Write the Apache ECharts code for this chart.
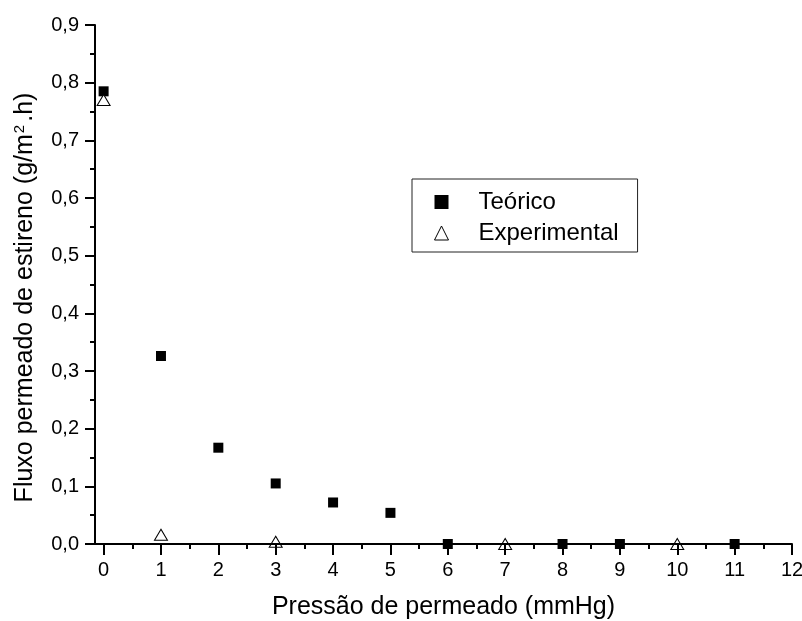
<!DOCTYPE html>
<html>
<head>
<meta charset="utf-8">
<script src="https://cdn.jsdelivr.net/npm/echarts@6/dist/echarts.min.js"></script>
<style>
html,body{margin:0;padding:0;background:#fff;}
#chart{width:802px;height:621px;}
</style>
</head>
<body>
<div id="chart"></div>
<script>
// Data
var teoricoX = [0, 1, 2, 3, 4, 5, 6, 8, 9, 11];
var teoricoY = [0.785, 0.326, 0.167, 0.105, 0.072, 0.054, 0.0, 0.0, 0.0, 0.0];
var experimentalX = [0, 1, 3, 7, 10];
var experimentalY = [0.770, 0.016, 0.004, 0.0, 0.0];
var xMajorTicks = [0, 1, 2, 3, 4, 5, 6, 7, 8, 9, 10, 11, 12];
var xMinorTicks = [0.5, 1.5, 2.5, 3.5, 4.5, 5.5, 6.5, 7.5, 8.5, 9.5, 10.5, 11.5];
var seriesNames = ['Teórico', 'Experimental'];
var xTitle = 'Pressão de permeado (mmHg)';

function pairs(xs, ys) { return xs.map(function (x, i) { return [x, ys[i]]; }); }

var FONT = 'Arial, "Liberation Sans", sans-serif';
var chart = echarts.init(document.getElementById('chart'), null, {renderer: 'canvas'});
chart.setOption({
  animation: false,
  backgroundColor: '#ffffff',
  grid: {left: 95, right: 10, top: 25, bottom: 77, containLabel: false, outerBoundsMode: 'none'},
  legend: {
    orient: 'vertical',
    left: 412, top: 179,
    padding: [11, 19, 7, 22],
    itemGap: 7,
    itemWidth: 14, itemHeight: 14,
    symbolKeepAspect: true,
    borderColor: '#222', borderWidth: 1,
    backgroundColor: '#fff',
    textStyle: {fontFamily: FONT, fontSize: 24, color: '#000', lineHeight: 24, padding: [0, 0, 0, 25]},
    data: [
      {name: seriesNames[0], icon: 'rect', itemStyle: {color: '#000', opacity: 1}},
      {name: seriesNames[1], icon: 'triangle', itemStyle: {color: '#fff', borderColor: '#000', borderWidth: 1, opacity: 1}}
    ]
  },
  xAxis: [{
    type: 'value', min: -0.15, max: 12, position: 'bottom', z: 5,
    splitLine: {show: false},
    axisLine: {show: true, onZero: false, lineStyle: {color: '#000', width: 2}},
    axisTick: {show: true, inside: false, length: 11, customValues: xMajorTicks, lineStyle: {color: '#000', width: 2}},
    axisLabel: {show: true, margin: 16, customValues: xMajorTicks, fontFamily: FONT, fontSize: 20, color: '#000'},
    name: xTitle, nameLocation: 'middle', nameGap: 51,
    nameTextStyle: {fontFamily: FONT, fontSize: 25, color: '#000'}
  }, {
    type: 'value', min: -0.15, max: 12, position: 'bottom', z: 5,
    splitLine: {show: false},
    axisLine: {show: false},
    axisTick: {show: true, inside: false, length: 5, customValues: xMinorTicks, lineStyle: {color: '#000', width: 2}},
    axisLabel: {show: false}
  }],
  yAxis: {
    type: 'value', min: 0, max: 0.9, interval: 0.1, z: 5,
    splitLine: {show: false},
    axisLine: {show: true, onZero: false, lineStyle: {color: '#000', width: 2}},
    axisTick: {show: true, inside: false, length: 10, lineStyle: {color: '#000', width: 2}},
    minorTick: {show: true, splitNumber: 2, length: 5, lineStyle: {color: '#000', width: 2}},
    axisLabel: {margin: 16, fontFamily: FONT, fontSize: 20, color: '#000',
      formatter: function (v) { return v.toFixed(1).replace('.', ','); }},
    name: '{a|Fluxo permeado de estireno (g/m}{s|2}{a|.h)}',
    nameLocation: 'middle', nameGap: 56,
    nameTextStyle: {
      padding: [0, 26, 0, 0],
      rich: {
        a: {fontFamily: FONT, fontSize: 25, color: '#000'},
        s: {fontFamily: FONT, fontSize: 15, color: '#000', padding: [0, 3, 12, 1]}
      }
    }
  },
  series: [{
    name: seriesNames[0], type: 'scatter', xAxisIndex: 0,
    symbol: 'rect', symbolSize: 10,
    itemStyle: {color: '#000', opacity: 1},
    data: pairs(teoricoX, teoricoY)
  }, {
    name: seriesNames[1], type: 'scatter', xAxisIndex: 0,
    symbol: 'triangle', symbolSize: [13, 11],
    itemStyle: {color: '#fff', borderColor: '#000', borderWidth: 1, opacity: 1},
    data: pairs(experimentalX, experimentalY)
  }]
});
</script>
</body>
</html>
